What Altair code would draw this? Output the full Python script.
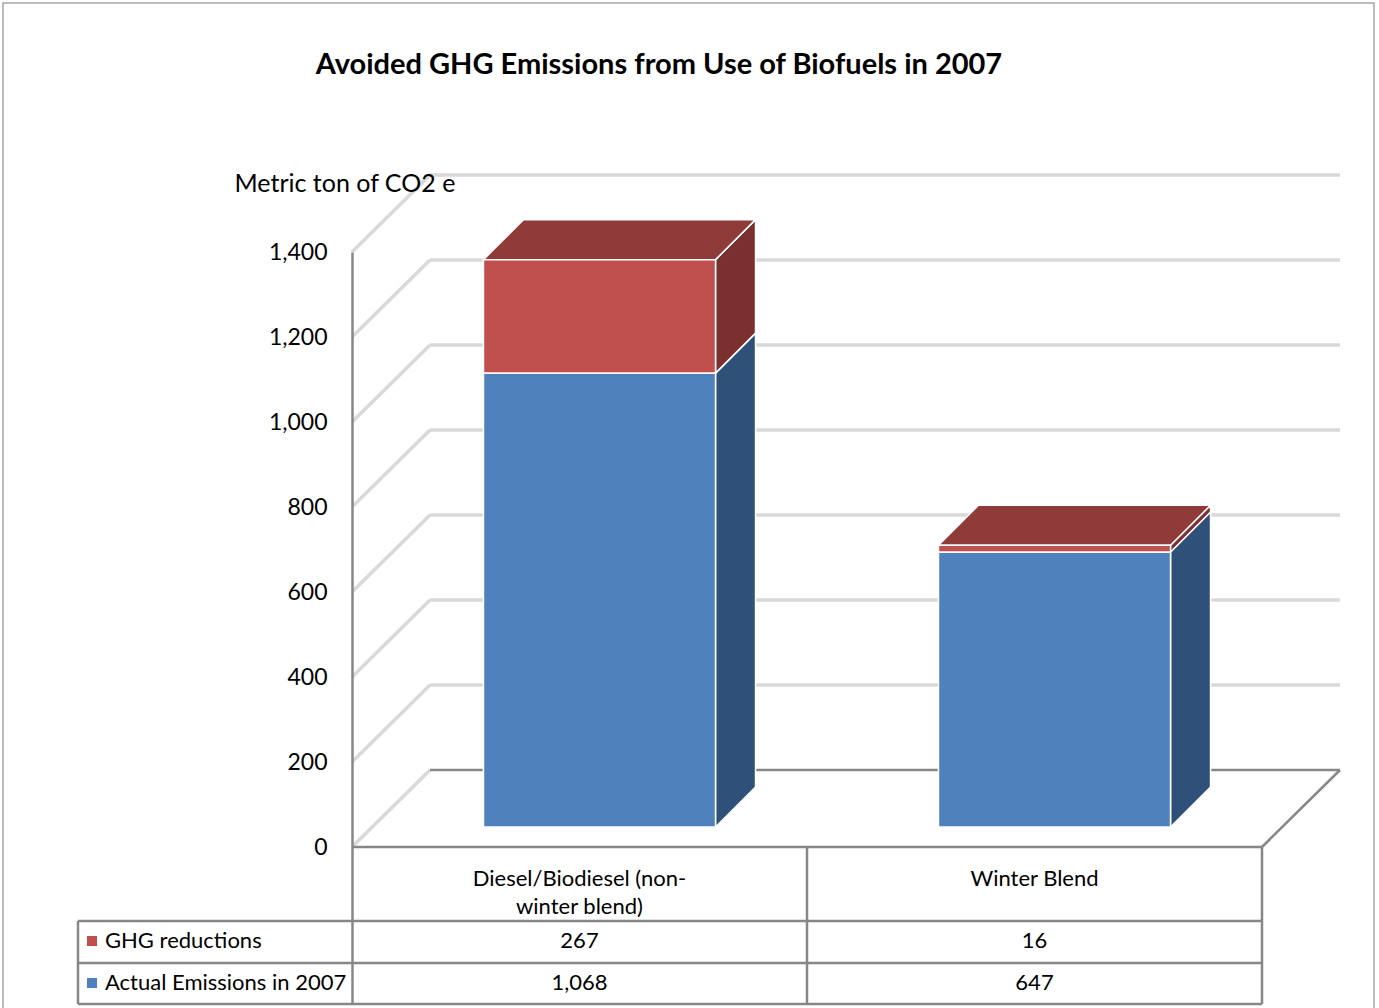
import altair as alt
import pandas as pd

# ---------------- data ----------------
categories = ["Diesel/Biodiesel (non-winter blend)", "Winter Blend"]
category_lines = [["Diesel/Biodiesel (non-", "winter blend)"], ["Winter Blend"]]
stack_series = ["Actual Emissions in 2007", "GHG reductions"]  # bottom -> top
actual = [1068, 647]
ghg = [267, 16]
table_rows = ["GHG reductions", "Actual Emissions in 2007"]  # table order
y_ticks = [0, 200, 400, 600, 800, 1000, 1200, 1400]

title_text = "Avoided GHG Emissions from Use of Biofuels in 2007"
y_title = "Metric ton of CO2 e"

# ---------------- style ----------------
FONT = "Lato"
front_col = {"Actual Emissions in 2007": "#4F81BD", "GHG reductions": "#C0504D"}
side_col = {"Actual Emissions in 2007": "#2F5078", "GHG reductions": "#7A302E"}
top_col = {"Actual Emissions in 2007": "#3E6699", "GHG reductions": "#8F3B39"}
LIGHT = "#D9D9D9"
DARK = "#878787"

# ---------------- layout (pixels -> scale units) ----------------
W, H = 910, 752
Y_MAX = 1400
PX_V = 595 / 1400            # pixels per value unit
Y_MIN = Y_MAX - H / PX_V
PX_U = W / len(categories)   # pixels per category unit


def ux(px):
    return px / PX_U


def vy(px):
    return px / PX_V


WALL_DX, WALL_DY = ux(78), vy(77)
BAR_DX0, BAR_DY0 = ux(20), vy(20)
BAR_DX, BAR_DY = ux(40), vy(40)
BAR_W = 0.51
NCAT = len(categories)

xs = alt.Scale(domain=[0, NCAT], nice=False, zero=False)
ys = alt.Scale(domain=[Y_MIN, Y_MAX], nice=False, zero=False)

Y_AXIS = alt.Axis(
    values=y_ticks, format=",.0f", grid=False, ticks=False,
    domainColor=DARK, domainWidth=2.5, zindex=1,
    labelFont=FONT, labelFontSize=23, labelColor="#000000", labelPadding=25,
    title=y_title, titleAngle=0, titleX=-118, titleY=-69,
    titleAlign="left", titleBaseline="middle", titleFont=FONT,
    titleFontSize=25, titleFontWeight="normal", titleColor="#000000",
)


def X(f="x"):
    return alt.X(f, type="quantitative", scale=xs, axis=None)


def X2(f="x2"):
    return alt.X2(f)


def Y(f="y"):
    return alt.Y(f, type="quantitative", scale=ys, axis=Y_AXIS, stack=None)


def Y2(f="y2"):
    return alt.Y2(f)


# ---------------- 3D bars ----------------
front, side, top = [], [], []
for i, cat in enumerate(categories):
    base = 0
    segs = [(stack_series[0], actual[i]), (stack_series[1], ghg[i])]
    xl = i + 0.5 - BAR_W / 2 + BAR_DX0
    xr = xl + BAR_W
    for s, v in segs:
        y0 = BAR_DY0 + base
        y1 = y0 + v
        key = f"{i}-{s}"
        front.append(dict(key=key, x=xl, x2=xr, y=y0, y2=y1, c=front_col[s]))
        side.append(dict(key=key, x=xr, y=y0, y2=y1, c=side_col[s]))
        side.append(dict(key=key, x=xr + BAR_DX, y=y0 + BAR_DY, y2=y1 + BAR_DY, c=side_col[s]))
        base += v
    s = segs[-1][0]
    ytop = BAR_DY0 + base
    top.append(dict(key=str(i), y=ytop, x=xl, x2=xr, c=top_col[s]))
    top.append(dict(key=str(i), y=ytop + BAR_DY, x=xl + BAR_DX, x2=xr + BAR_DX, c=top_col[s]))

front_df, side_df, top_df = pd.DataFrame(front), pd.DataFrame(side), pd.DataFrame(top)

# ---------------- walls / floor ----------------
light_lines, dark_lines = [], []
for v in y_ticks:
    light_lines.append(dict(x=0, y=v, x2=WALL_DX, y2=v + WALL_DY))
    if v > 0:
        light_lines.append(dict(x=WALL_DX, y=v + WALL_DY, x2=NCAT + WALL_DX, y2=v + WALL_DY))
dark_lines.append(dict(x=WALL_DX, y=WALL_DY, x2=NCAT + WALL_DX, y2=WALL_DY))
dark_lines.append(dict(x=NCAT, y=0, x2=NCAT + WALL_DX, y2=WALL_DY))
dark_lines.append(dict(x=0, y=0, x2=NCAT, y2=0))

# ---------------- table ----------------
T_LEFT = ux(-274)
row_top = [vy(-74), vy(-116)]
row_mid = [vy(-94), vy(-136)]
dark_lines.append(dict(x=T_LEFT, y=row_top[0], x2=NCAT, y2=row_top[0]))
dark_lines.append(dict(x=T_LEFT, y=row_top[1], x2=NCAT, y2=row_top[1]))
dark_lines.append(dict(x=T_LEFT, y=Y_MIN, x2=NCAT, y2=Y_MIN))
dark_lines.append(dict(x=T_LEFT, y=row_top[0], x2=T_LEFT, y2=Y_MIN))
for k in range(1, NCAT + 1):
    dark_lines.append(dict(x=k, y=0, x2=k, y2=Y_MIN))

light_df, dark_df = pd.DataFrame(light_lines), pd.DataFrame(dark_lines)

header = []
for i, lines in enumerate(category_lines):
    for k, t in enumerate(lines):
        header.append(dict(x=i + 0.5, y=vy(-32 - 28 * k), t=t))
header_df = pd.DataFrame(header)

vals = []
lookup = {"GHG reductions": ghg, "Actual Emissions in 2007": actual}
for r, name in enumerate(table_rows):
    for i in range(NCAT):
        vals.append(dict(x=i + 0.5, y=row_mid[r], t=f"{lookup[name][i]:,}"))
vals_df = pd.DataFrame(vals)

legend_df = pd.DataFrame([
    dict(x=ux(-260), xt=ux(-247), y=row_mid[r], t=name, c=front_col[name])
    for r, name in enumerate(table_rows)
])

# ---------------- layers ----------------
light = alt.Chart(light_df).mark_rule(color=LIGHT, strokeWidth=3.5).encode(
    x=X(), y=Y(), x2=X2(), y2=Y2())
dark = alt.Chart(dark_df).mark_rule(color=DARK, strokeWidth=2.5).encode(
    x=X(), y=Y(), x2=X2(), y2=Y2())

sides = alt.Chart(side_df).mark_area(stroke="white", strokeWidth=1.5, interpolate="linear").encode(
    x=X(), y=Y(), y2=Y2(), detail="key:N", color=alt.Color("c:N", scale=None))
tops = alt.Chart(top_df).mark_area(orient="horizontal", stroke="white", strokeWidth=1.5).encode(
    y=Y(), x=X(), x2=X2(), detail="key:N", color=alt.Color("c:N", scale=None))
fronts = alt.Chart(front_df).mark_rect(stroke="white", strokeWidth=1.5).encode(
    x=X(), x2=X2(), y=Y(), y2=Y2(), color=alt.Color("c:N", scale=None))

header_txt = alt.Chart(header_df).mark_text(font=FONT, fontSize=22, color="#000000").encode(
    x=X(), y=Y(), text="t:N")
vals_txt = alt.Chart(vals_df).mark_text(font=FONT, fontSize=22, color="#000000").encode(
    x=X(), y=Y(), text="t:N")
legend_sw = alt.Chart(legend_df).mark_square(size=100, opacity=1).encode(
    x=X(), y=Y(), color=alt.Color("c:N", scale=None))
legend_txt = alt.Chart(legend_df).mark_text(font=FONT, fontSize=22, color="#000000", align="left").encode(
    x=X("xt"), y=Y(), text="t:N")

title = alt.Chart(pd.DataFrame({"t": [title_text]})).mark_text(
    font=FONT, fontSize=29, fontWeight="bold", color="#000000", align="center", baseline="middle"
).encode(x=alt.value(307), y=alt.value(-187), text="t:N")

border = alt.Chart(pd.DataFrame({"a": [0]})).mark_rect(
    fill="transparent", stroke="#A6A6A6", strokeWidth=1.5
).encode(x=alt.value(-349), x2=alt.value(1022), y=alt.value(-249), y2=alt.value(770))

chart = alt.layer(
    border, light, dark, sides, tops, fronts,
    header_txt, vals_txt, legend_sw, legend_txt, title,
).properties(
    width=W, height=H,
    autosize=alt.AutoSizeParams(type="none"),
    padding={"left": 352, "top": 252, "right": 117, "bottom": 4},
    background="white",
).configure_view(stroke=None)

chart.save("out.html", embed_options={"renderer": "svg", "actions": False})
